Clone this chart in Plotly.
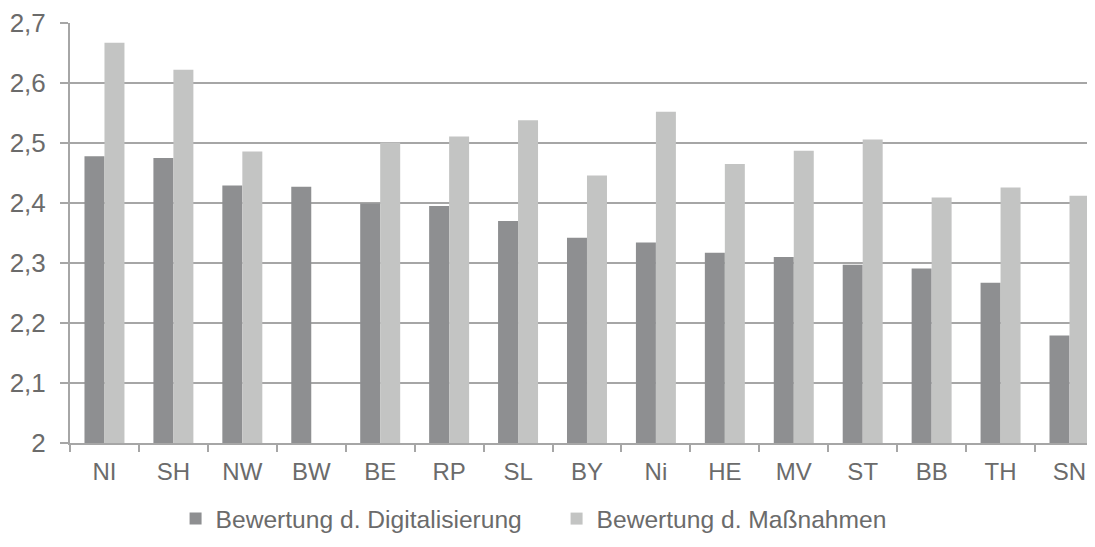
import plotly.graph_objects as go

categories = ["NI", "SH", "NW", "BW", "BE", "RP", "SL", "BY", "Ni", "HE", "MV", "ST", "BB", "TH", "SN"]
digitalisierung = [2.478, 2.475, 2.429, 2.427, 2.399, 2.395, 2.370, 2.342, 2.334, 2.317, 2.310, 2.297, 2.291, 2.267, 2.179]
massnahmen = [2.667, 2.622, 2.486, None, 2.501, 2.511, 2.538, 2.446, 2.552, 2.465, 2.487, 2.506, 2.409, 2.426, 2.412]
y_tickvals = [2.0, 2.1, 2.2, 2.3, 2.4, 2.5, 2.6, 2.7]
y_ticktext = ["2", "2,1", "2,2", "2,3", "2,4", "2,5", "2,6", "2,7"]

text_color = "#6b6b6b"
grid_color = "#a6a6a6"
font_family = "Liberation Sans, Arial, sans-serif"

fig = go.Figure()
fig.add_trace(go.Bar(
    x=categories, y=digitalisierung, name="Bewertung d. Digitalisierung",
    marker=dict(color="#8e8f91", line=dict(width=0)),
))
fig.add_trace(go.Bar(
    x=categories, y=massnahmen, name="Bewertung d. Maßnahmen",
    marker=dict(color="#c3c4c3", line=dict(width=0)),
))

fig.update_layout(
    width=1087, height=539,
    margin=dict(l=62, r=0, t=13, b=104),
    paper_bgcolor="white", plot_bgcolor="white",
    barmode="group", bargap=0.42, bargroupgap=0,
    font=dict(family=font_family, color=text_color, size=24),
    showlegend=True,
    legend=dict(
        orientation="h", x=0.103, xanchor="left", y=-0.180, yanchor="middle",
        font=dict(size=24.6, color=text_color),
        traceorder="normal", entrywidth=336, entrywidthmode="pixels", itemwidth=30,
    ),
    xaxis=dict(
        type="category", range=[-0.5, 14.37],
        showline=True, linecolor=grid_color, linewidth=2,
        ticks="outside", tickson="boundaries", ticklen=7, tickcolor=grid_color, tickwidth=2,
        tickfont=dict(size=24, color=text_color), showgrid=False, ticklabelstandoff=6,
    ),
    yaxis=dict(
        range=[2, 2.7], tickvals=y_tickvals, ticktext=y_ticktext,
        showline=True, linecolor=grid_color, linewidth=2,
        ticks="outside", ticklen=8, tickcolor=grid_color, tickwidth=2,
        showgrid=True, gridcolor=grid_color, gridwidth=2,
        tickfont=dict(size=26, color=text_color), ticklabelstandoff=9,
        ticklabeloverflow="allow", zeroline=False,
    ),
)

fig.write_html("out.html")
